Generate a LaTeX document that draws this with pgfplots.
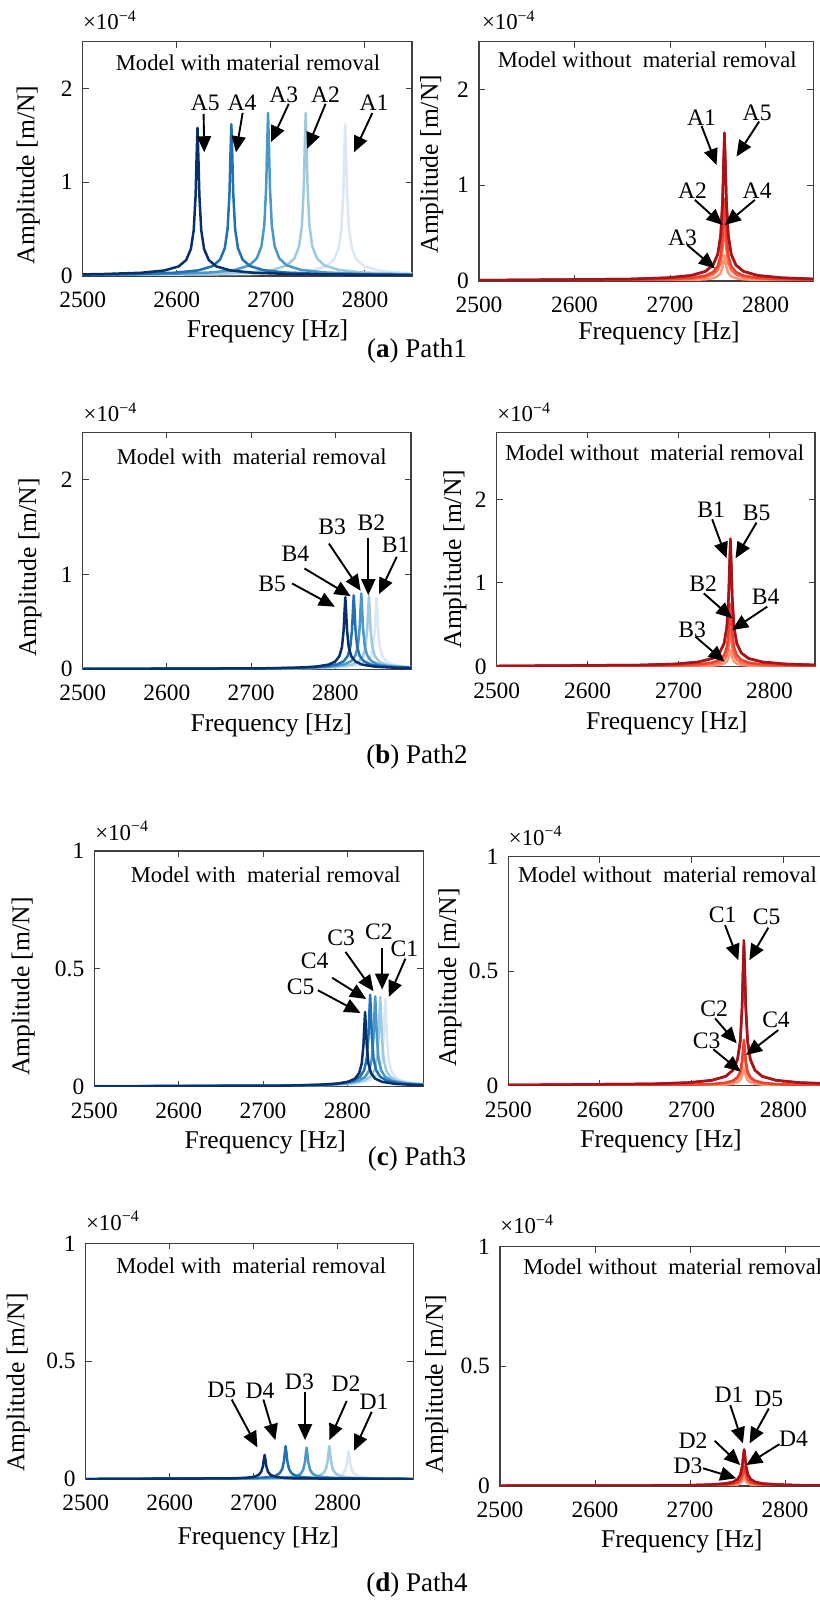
\documentclass[border=0pt]{standalone}
\usepackage{pgfplots}
\usepackage{pgfplotstable}
\pgfplotsset{compat=1.18}
\usepackage{fontspec}
\setmainfont{Liberation Serif}
\usetikzlibrary{arrows.meta}

\definecolor{b1}{RGB}{218,232,246}
\definecolor{b2}{RGB}{158,202,225}
\definecolor{b3}{RGB}{74,152,201}
\definecolor{b4}{RGB}{33,113,181}
\definecolor{b5}{RGB}{8,48,107}
\definecolor{r1}{RGB}{170,18,24}
\definecolor{r2}{RGB}{206,30,32}
\definecolor{r3}{RGB}{236,66,46}
\definecolor{r4}{RGB}{248,110,78}
\definecolor{r5}{RGB}{252,150,118}

% right panels: all peaks at 2757 Hz
\pgfplotstableread{
f a b c d e
2500 0.008 0.008 0.004 0.003 0.001
2657 0.020 0.020 0.011 0.008 0.004
2697 0.034 0.033 0.019 0.013 0.006
2722 0.058 0.056 0.032 0.023 0.010
2737 0.101 0.099 0.056 0.040 0.018
2745 0.167 0.164 0.093 0.067 0.029
2750 0.283 0.278 0.157 0.113 0.049
2753 0.479 0.470 0.266 0.192 0.083
2755 0.845 0.828 0.469 0.338 0.147
2756 1.229 1.205 0.682 0.491 0.214
2757 1.550 1.520 0.860 0.620 0.270
2758 1.229 1.205 0.682 0.491 0.214
2759 0.845 0.828 0.469 0.338 0.147
2761 0.479 0.470 0.266 0.192 0.083
2764 0.283 0.278 0.157 0.113 0.049
2769 0.167 0.164 0.093 0.067 0.029
2777 0.101 0.099 0.056 0.040 0.018
2792 0.058 0.056 0.032 0.023 0.010
2817 0.034 0.033 0.019 0.013 0.006
2850 0.022 0.021 0.012 0.009 0.004
}\tabA
\pgfplotstableread{
f a b c d e
2500 0.008 0.008 0.004 0.002 0.001
2657 0.020 0.020 0.010 0.006 0.003
2697 0.033 0.032 0.016 0.010 0.004
2722 0.057 0.056 0.028 0.017 0.007
2737 0.099 0.097 0.049 0.029 0.013
2745 0.165 0.162 0.081 0.048 0.022
2750 0.279 0.274 0.137 0.082 0.037
2753 0.473 0.464 0.232 0.139 0.062
2755 0.834 0.818 0.409 0.245 0.109
2756 1.213 1.189 0.594 0.357 0.159
2757 1.530 1.500 0.750 0.450 0.200
2758 1.213 1.189 0.594 0.357 0.159
2759 0.834 0.818 0.409 0.245 0.109
2761 0.473 0.464 0.232 0.139 0.062
2764 0.279 0.274 0.137 0.082 0.037
2769 0.165 0.162 0.081 0.048 0.022
2777 0.099 0.097 0.049 0.029 0.013
2792 0.057 0.056 0.028 0.017 0.007
2817 0.033 0.032 0.016 0.010 0.004
2850 0.021 0.021 0.010 0.006 0.003
}\tabB
\pgfplotstableread{
f a b c d e
2500 0.003 0.003 0.001 0.001 0.000
2657 0.008 0.008 0.003 0.002 0.001
2697 0.014 0.013 0.004 0.004 0.002
2722 0.024 0.023 0.007 0.006 0.003
2737 0.041 0.040 0.013 0.011 0.005
2745 0.068 0.067 0.022 0.018 0.009
2750 0.116 0.113 0.037 0.031 0.015
2753 0.196 0.192 0.062 0.053 0.025
2755 0.346 0.338 0.109 0.093 0.044
2756 0.503 0.491 0.159 0.135 0.063
2757 0.635 0.620 0.200 0.170 0.080
2758 0.503 0.491 0.159 0.135 0.063
2759 0.346 0.338 0.109 0.093 0.044
2761 0.196 0.192 0.062 0.053 0.025
2764 0.116 0.113 0.037 0.031 0.015
2769 0.068 0.067 0.022 0.018 0.009
2777 0.041 0.040 0.013 0.011 0.005
2792 0.024 0.023 0.007 0.006 0.003
2817 0.014 0.013 0.004 0.004 0.002
2850 0.009 0.009 0.003 0.002 0.001
}\tabC
\pgfplotstableread{
f a b c d e
2500 0.001 0.001 0.000 0.000 0.000
2657 0.002 0.002 0.001 0.001 0.000
2697 0.003 0.003 0.002 0.002 0.001
2722 0.006 0.006 0.003 0.003 0.001
2737 0.010 0.010 0.005 0.005 0.002
2745 0.016 0.016 0.009 0.008 0.004
2750 0.028 0.027 0.015 0.013 0.006
2753 0.047 0.046 0.025 0.022 0.011
2755 0.083 0.082 0.044 0.038 0.019
2756 0.121 0.119 0.063 0.055 0.028
2757 0.153 0.150 0.080 0.070 0.035
2758 0.121 0.119 0.063 0.055 0.028
2759 0.083 0.082 0.044 0.038 0.019
2761 0.047 0.046 0.025 0.022 0.011
2764 0.028 0.027 0.015 0.013 0.006
2769 0.016 0.016 0.009 0.008 0.004
2777 0.010 0.010 0.005 0.005 0.002
2792 0.006 0.006 0.003 0.003 0.001
2817 0.003 0.003 0.002 0.002 0.001
2850 0.002 0.002 0.001 0.001 0.000
}\tabD

\pgfplotsset{
  panel/.style={
    scale only axis, anchor=south west,
    xmin=2500, ymin=0,
    axis line style={draw=black!75, line width=0.6pt},
    every tick/.style={draw=black!75, line width=0.5pt},
    major tick length=3pt,
    tick align=inside,
    xtick={2500,2600,2700,2800},
    xticklabels={2500,2600,2700,2800},
    ticklabel style={font=\fontsize{11.7}{13}\selectfont, text=black},
    xticklabel style={yshift=-4.5pt},
    yticklabel style={xshift=-1.5pt},
    /pgf/number format/assume math mode=true,
    scaled ticks=false,
    every axis plot/.append style={line width=1.25pt, line join=round, no marks},
  },
  yA/.style={ymax=2.5, ytick={0,1,2}, yticklabels={0,1,2}},
  yC/.style={ymax=1, ytick={0,0.5,1}, yticklabels={0,0.5,1}},
}
\tikzset{
  ann/.style={draw=black, line width=0.95pt, -{Triangle[length=8pt,width=7pt]}},
  lab/.style={font=\fontsize{11.8}{13}\selectfont, inner sep=0pt},
  axl/.style={font=\fontsize{12.8}{14}\selectfont, inner sep=0pt},
  mdl/.style={font=\fontsize{11.3}{13}\selectfont, inner sep=0pt},
  captxt/.style={font=\fontsize{13.5}{15}\selectfont, inner sep=0pt},
  scitxt/.style={font=\fontsize{11.4}{12}\selectfont, inner sep=0pt, anchor=base west},
}
\newcommand{\sci}{×10\raisebox{0.8ex}{\fontsize{8}{9}\selectfont −4}}

\begin{document}
\begin{tikzpicture}

% ---------------- (a) left
\begin{axis}[panel, yA, at={(41.35pt,662pt)}, width=164.65pt, height=117.15pt, xmax=2850]
\addplot[color=b1] coordinates {(2500,0.008) (2679,0.021) (2719,0.035) (2744,0.060) (2759,0.105) (2767,0.174) (2772,0.296) (2775,0.501) (2777,0.883) (2778,1.284) (2779,1.62) (2780,1.284) (2781,0.883) (2783,0.501) (2786,0.296) (2791,0.174) (2799,0.105) (2814,0.060) (2839,0.035) (2850,0.030)};
\addplot[color=b2] coordinates {(2500,0.010) (2637,0.023) (2677,0.038) (2702,0.065) (2717,0.113) (2725,0.187) (2730,0.318) (2733,0.538) (2735,0.948) (2736,1.379) (2737,1.74) (2738,1.379) (2739,0.948) (2741,0.538) (2744,0.318) (2749,0.187) (2757,0.113) (2772,0.065) (2797,0.038) (2837,0.023) (2850,0.020)};
\addplot[color=b3] coordinates {(2500,0.011) (2597,0.023) (2637,0.038) (2662,0.065) (2677,0.113) (2685,0.187) (2690,0.318) (2693,0.538) (2695,0.948) (2696,1.379) (2697,1.74) (2698,1.379) (2699,0.948) (2701,0.538) (2704,0.318) (2709,0.187) (2717,0.113) (2732,0.065) (2757,0.038) (2797,0.023) (2850,0.015)};
\addplot[color=b4] coordinates {(2500,0.013) (2558,0.021) (2598,0.035) (2623,0.060) (2638,0.105) (2646,0.174) (2651,0.296) (2654,0.501) (2656,0.883) (2657,1.284) (2658,1.62) (2659,1.284) (2660,0.883) (2662,0.501) (2665,0.296) (2670,0.174) (2678,0.105) (2693,0.060) (2718,0.035) (2758,0.021) (2850,0.011)};
\addplot[color=b5] coordinates {(2500,0.017) (2522,0.021) (2562,0.034) (2587,0.059) (2602,0.102) (2610,0.170) (2615,0.289) (2618,0.488) (2620,0.861) (2621,1.252) (2622,1.58) (2623,1.252) (2624,0.861) (2626,0.488) (2629,0.289) (2634,0.170) (2642,0.102) (2657,0.059) (2682,0.034) (2722,0.021) (2850,0.009)};
\node[lab] at (axis cs:2630.3,1.844) {A5};
\draw[ann] (axis cs:2628.5,1.73) -- (axis cs:2629.2,1.32);
\node[lab] at (axis cs:2669.3,1.844) {A4};
\draw[ann] (axis cs:2670,1.74) -- (axis cs:2662.9,1.32);
\node[lab] at (axis cs:2713.7,1.936) {A3};
\draw[ann] (axis cs:2719,1.837) -- (axis cs:2700.2,1.43);
\node[lab] at (axis cs:2758.1,1.936) {A2};
\draw[ann] (axis cs:2758.1,1.837) -- (axis cs:2738.5,1.358);
\node[lab] at (axis cs:2809.6,1.844) {A1};
\draw[ann] (axis cs:2807.8,1.738) -- (axis cs:2788.3,1.32);
\end{axis}

% ---------------- (a) right
\begin{axis}[panel, yA, at={(239.5pt,659.5pt)}, width=167.15pt, height=119.65pt, xmax=2850]
\addplot[color=r5] table[x=f,y=e] {\tabA};
\addplot[color=r4] table[x=f,y=d] {\tabA};
\addplot[color=r3] table[x=f,y=c] {\tabA};
\addplot[color=r2] table[x=f,y=b] {\tabA};
\addplot[color=r1] table[x=f,y=a] {\tabA};
\node[lab] at (axis cs:2733,1.71) {A1};
\draw[ann] (axis cs:2733,1.62) -- (axis cs:2748.7,1.213);
\node[lab] at (axis cs:2791.2,1.76) {A5};
\draw[ann] (axis cs:2793.3,1.666) -- (axis cs:2769.6,1.30);
\node[lab] at (axis cs:2723.6,0.944) {A2};
\draw[ann] (axis cs:2726,0.847) -- (axis cs:2755,0.585);
\node[lab] at (axis cs:2791.2,0.944) {A4};
\draw[ann] (axis cs:2788.8,0.847) -- (axis cs:2757.4,0.585);
\node[lab] at (axis cs:2713.1,0.456) {A3};
\draw[ann] (axis cs:2718,0.376) -- (axis cs:2747,0.132);
\end{axis}

% ---------------- (b) left
\begin{axis}[panel, yA, at={(41.35pt,465.35pt)}, width=164.15pt, height=118.5pt, xmax=2890]
\addplot[color=b1] coordinates {(2500,0.003) (2749,0.010) (2789,0.016) (2814,0.028) (2829,0.049) (2837,0.081) (2842,0.137) (2845,0.232) (2847,0.409) (2848,0.594) (2849,0.75) (2850,0.594) (2851,0.409) (2853,0.232) (2856,0.137) (2861,0.081) (2869,0.049) (2884,0.028) (2890,0.024)};
\addplot[color=b2] coordinates {(2500,0.003) (2740,0.010) (2780,0.017) (2805,0.029) (2820,0.050) (2828,0.083) (2833,0.141) (2836,0.238) (2838,0.420) (2839,0.610) (2840,0.77) (2841,0.610) (2842,0.420) (2844,0.238) (2847,0.141) (2852,0.083) (2860,0.050) (2875,0.029) (2890,0.020)};
\addplot[color=b3] coordinates {(2500,0.003) (2731,0.010) (2771,0.017) (2796,0.030) (2811,0.052) (2819,0.086) (2824,0.146) (2827,0.247) (2829,0.436) (2830,0.634) (2831,0.80) (2832,0.634) (2833,0.436) (2835,0.247) (2838,0.146) (2843,0.086) (2851,0.052) (2866,0.030) (2890,0.018)};
\addplot[color=b4] coordinates {(2500,0.003) (2722,0.010) (2762,0.017) (2787,0.029) (2802,0.051) (2810,0.084) (2815,0.142) (2818,0.241) (2820,0.425) (2821,0.618) (2822,0.78) (2823,0.618) (2824,0.425) (2826,0.241) (2829,0.142) (2834,0.084) (2842,0.051) (2857,0.029) (2890,0.015)};
\addplot[color=b5] coordinates {(2500,0.003) (2712,0.010) (2752,0.016) (2777,0.028) (2792,0.049) (2800,0.082) (2805,0.139) (2808,0.235) (2810,0.414) (2811,0.602) (2812,0.76) (2813,0.602) (2814,0.414) (2816,0.235) (2819,0.139) (2824,0.082) (2832,0.049) (2847,0.028) (2872,0.016) (2890,0.013)};
\node[lab] at (axis cs:2725,0.905) {B5};
\draw[ann] (axis cs:2748.8,0.905) -- (axis cs:2799.6,0.66);
\node[lab] at (axis cs:2752.8,1.214) {B4};
\draw[ann] (axis cs:2763.5,1.063) -- (axis cs:2818.3,0.772);
\node[lab] at (axis cs:2796.4,1.502) {B3};
\draw[ann] (axis cs:2792.5,1.326) -- (axis cs:2830.2,0.828);
\node[lab] at (axis cs:2842.9,1.544) {B2};
\draw[ann] (axis cs:2839.3,1.386) -- (axis cs:2839.3,0.782);
\node[lab] at (axis cs:2871.8,1.309) {B1};
\draw[ann] (axis cs:2873,1.186) -- (axis cs:2852,0.793);
\end{axis}

% ---------------- (b) right
\begin{axis}[panel, ymax=2.8, ytick={0,1,2}, yticklabels={0,1,2}, at={(248.35pt,466.65pt)}, width=159.15pt, height=117.2pt, xmax=2850]
\addplot[color=r5] table[x=f,y=e] {\tabB};
\addplot[color=r4] table[x=f,y=d] {\tabB};
\addplot[color=r3] table[x=f,y=c] {\tabB};
\addplot[color=r2] table[x=f,y=b] {\tabB};
\addplot[color=r1] table[x=f,y=a] {\tabB};
\node[lab] at (axis cs:2735.8,1.873) {B1};
\draw[ann] (axis cs:2736.9,1.761) -- (axis cs:2752.7,1.295);
\node[lab] at (axis cs:2785.7,1.833) {B5};
\draw[ann] (axis cs:2785.7,1.721) -- (axis cs:2762.6,1.295);
\node[lab] at (axis cs:2727,0.988) {B2};
\draw[ann] (axis cs:2727.7,0.876) -- (axis cs:2758.9,0.578);
\node[lab] at (axis cs:2795.6,0.837) {B4};
\draw[ann] (axis cs:2797.5,0.717) -- (axis cs:2758.9,0.438);
\node[lab] at (axis cs:2714.8,0.438) {B3};
\draw[ann] (axis cs:2718.5,0.359) -- (axis cs:2750.5,0.06);
\end{axis}

% ---------------- (c) left
\begin{axis}[panel, yC, at={(47.15pt,256.65pt)}, width=164.5pt, height=117.85pt, xmax=2890]
\addplot[color=b1] coordinates {(2500,0.001) (2745,0.005) (2785,0.008) (2810,0.014) (2825,0.024) (2833,0.040) (2838,0.068) (2841,0.115) (2843,0.203) (2844,0.295) (2845,0.372) (2846,0.295) (2847,0.203) (2849,0.115) (2852,0.068) (2857,0.040) (2865,0.024) (2880,0.014) (2890,0.011)};
\addplot[color=b2] coordinates {(2500,0.001) (2739,0.005) (2779,0.008) (2804,0.014) (2819,0.025) (2827,0.041) (2832,0.069) (2835,0.117) (2837,0.207) (2838,0.301) (2839,0.38) (2840,0.301) (2841,0.207) (2843,0.117) (2846,0.069) (2851,0.041) (2859,0.025) (2874,0.014) (2890,0.010)};
\addplot[color=b3] coordinates {(2500,0.001) (2733,0.005) (2773,0.008) (2798,0.014) (2813,0.025) (2821,0.041) (2826,0.070) (2829,0.118) (2831,0.209) (2832,0.304) (2833,0.383) (2834,0.304) (2835,0.209) (2837,0.118) (2840,0.070) (2845,0.041) (2853,0.025) (2868,0.014) (2890,0.009)};
\addplot[color=b4] coordinates {(2500,0.002) (2727,0.005) (2767,0.008) (2792,0.014) (2807,0.025) (2815,0.042) (2820,0.071) (2823,0.121) (2825,0.213) (2826,0.309) (2827,0.39) (2828,0.309) (2829,0.213) (2831,0.121) (2834,0.071) (2839,0.042) (2847,0.025) (2862,0.014) (2887,0.008) (2890,0.008)};
\addplot[color=b5] coordinates {(2500,0.001) (2721,0.004) (2761,0.007) (2786,0.012) (2801,0.021) (2809,0.034) (2814,0.058) (2817,0.098) (2819,0.173) (2820,0.251) (2821,0.317) (2822,0.251) (2823,0.173) (2825,0.098) (2828,0.058) (2833,0.034) (2841,0.021) (2856,0.012) (2881,0.007) (2890,0.006)};
\node[lab] at (axis cs:2744.6,0.423) {C5};
\draw[ann] (axis cs:2765.1,0.409) -- (axis cs:2815.6,0.3125);
\node[lab] at (axis cs:2761.1,0.533) {C4};
\draw[ann] (axis cs:2782,0.462) -- (axis cs:2822.3,0.372);
\node[lab] at (axis cs:2792.7,0.632) {C3};
\draw[ann] (axis cs:2797.8,0.572) -- (axis cs:2831,0.405);
\node[lab] at (axis cs:2837.3,0.656) {C2};
\draw[ann] (axis cs:2841.2,0.589) -- (axis cs:2841.2,0.412);
\node[lab] at (axis cs:2867.7,0.585) {C1};
\draw[ann] (axis cs:2868.8,0.543) -- (axis cs:2849.1,0.381);
\end{axis}

% ---------------- (c) right
\begin{axis}[panel, yC, at={(254.15pt,257.15pt)}, width=160.45pt, height=114.5pt, xmax=2850]
\addplot[color=r5] table[x=f,y=e] {\tabC};
\addplot[color=r4] table[x=f,y=d] {\tabC};
\addplot[color=r3] table[x=f,y=c] {\tabC};
\addplot[color=r2] table[x=f,y=b] {\tabC};
\addplot[color=r1] table[x=f,y=a] {\tabC};
\node[lab] at (axis cs:2733.8,0.748) {C1};
\draw[ann] (axis cs:2736.4,0.701) -- (axis cs:2750.9,0.548);
\node[lab] at (axis cs:2781.8,0.737) {C5};
\draw[ann] (axis cs:2783.6,0.69) -- (axis cs:2762.9,0.548);
\node[lab] at (axis cs:2724.4,0.337) {C2};
\draw[ann] (axis cs:2725.5,0.294) -- (axis cs:2749.1,0.185);
\node[lab] at (axis cs:2792,0.287) {C4};
\draw[ann] (axis cs:2794.5,0.243) -- (axis cs:2759.3,0.134);
\node[lab] at (axis cs:2716.4,0.196) {C3};
\draw[ann] (axis cs:2723.6,0.159) -- (axis cs:2753.5,0.061);
\end{axis}

% ---------------- (d) left
\begin{axis}[panel, yC, at={(42.85pt,60.35pt)}, width=163.8pt, height=118pt, xmax=2890]
\addplot[color=b1] coordinates {(2500,0.000) (2778,0.004) (2793,0.008) (2801,0.013) (2806,0.022) (2809,0.037) (2811,0.066) (2812,0.096) (2813,0.121) (2814,0.096) (2815,0.066) (2817,0.037) (2820,0.022) (2825,0.013) (2833,0.008) (2848,0.004) (2890,0.002)};
\addplot[color=b2] coordinates {(2500,0.001) (2755,0.005) (2770,0.009) (2778,0.015) (2783,0.026) (2786,0.044) (2788,0.077) (2789,0.112) (2790,0.141) (2791,0.112) (2792,0.077) (2794,0.044) (2797,0.026) (2802,0.015) (2810,0.009) (2825,0.005) (2890,0.002)};
\addplot[color=b3] coordinates {(2500,0.001) (2728,0.005) (2743,0.009) (2751,0.014) (2756,0.024) (2759,0.041) (2761,0.073) (2762,0.106) (2763,0.134) (2764,0.106) (2765,0.073) (2767,0.041) (2770,0.024) (2775,0.014) (2783,0.009) (2798,0.005) (2890,0.001)};
\addplot[color=b4] coordinates {(2500,0.001) (2703,0.005) (2718,0.009) (2726,0.015) (2731,0.026) (2734,0.044) (2736,0.077) (2737,0.112) (2738,0.141) (2739,0.112) (2740,0.077) (2742,0.044) (2745,0.026) (2750,0.015) (2758,0.009) (2773,0.005) (2890,0.001)};
\addplot[color=b5] coordinates {(2500,0.001) (2678,0.004) (2693,0.007) (2701,0.011) (2706,0.019) (2709,0.032) (2711,0.056) (2712,0.082) (2713,0.103) (2714,0.082) (2715,0.056) (2717,0.032) (2720,0.019) (2725,0.011) (2733,0.007) (2748,0.004) (2890,0.001)};
\node[lab] at (axis cs:2661.9,0.377) {D5};
\draw[ann] (axis cs:2673.8,0.338) -- (axis cs:2704.4,0.135);
\node[lab] at (axis cs:2707.5,0.377) {D4};
\draw[ann] (axis cs:2711.5,0.338) -- (axis cs:2725.8,0.166);
\node[lab] at (axis cs:2754.4,0.413) {D3};
\draw[ann] (axis cs:2761.1,0.370) -- (axis cs:2761.1,0.166);
\node[lab] at (axis cs:2809.9,0.403) {D2};
\draw[ann] (axis cs:2810.7,0.332) -- (axis cs:2790.1,0.166);
\node[lab] at (axis cs:2843.3,0.328) {D1};
\draw[ann] (axis cs:2840.5,0.286) -- (axis cs:2819.4,0.121);
\end{axis}

% ---------------- (d) right
\begin{axis}[panel, yC, at={(250pt,57pt)}, width=166.25pt, height=119.65pt, xmax=2850]
\addplot[color=r5] table[x=f,y=e] {\tabD};
\addplot[color=r4] table[x=f,y=d] {\tabD};
\addplot[color=r3] table[x=f,y=c] {\tabD};
\addplot[color=r2] table[x=f,y=b] {\tabD};
\addplot[color=r1] table[x=f,y=a] {\tabD};
\node[lab] at (axis cs:2741,0.383) {D1};
\draw[ann] (axis cs:2742.4,0.3375) -- (axis cs:2755.7,0.178);
\node[lab] at (axis cs:2783,0.365) {D5};
\draw[ann] (axis cs:2783,0.324) -- (axis cs:2762.7,0.178);
\node[lab] at (axis cs:2703.2,0.189) {D2};
\draw[ann] (axis cs:2725.9,0.189) -- (axis cs:2752.9,0.0875);
\node[lab] at (axis cs:2808.9,0.199) {D4};
\draw[ann] (axis cs:2794.2,0.175) -- (axis cs:2759.2,0.0875);
\node[lab] at (axis cs:2697.9,0.083) {D3};
\draw[ann] (axis cs:2713.7,0.074) -- (axis cs:2748.7,0.032);
\end{axis}

% ---------- axis labels
\node[axl] at (133.75pt,634.15pt) {Frequency [Hz]};
\node[axl] at (329.5pt,633.5pt) {Frequency [Hz]};
\node[axl] at (135.65pt,437.5pt) {Frequency [Hz]};
\node[axl] at (333.35pt,438.35pt) {Frequency [Hz]};
\node[axl] at (132.65pt,228.65pt) {Frequency [Hz]};
\node[axl] at (330.5pt,229.15pt) {Frequency [Hz]};
\node[axl] at (129.15pt,30.85pt) {Frequency [Hz]};
\node[axl] at (340.85pt,29.15pt) {Frequency [Hz]};

\node[axl,rotate=90] at (14.15pt,712.5pt) {Amplitude [m/N]};
\node[axl,rotate=90] at (215.85pt,717.9pt) {Amplitude [m/N]};
\node[axl,rotate=90] at (15pt,516.25pt) {Amplitude [m/N]};
\node[axl,rotate=90] at (227.5pt,520.4pt) {Amplitude [m/N]};
\node[axl,rotate=90] at (11.65pt,306.65pt) {Amplitude [m/N]};
\node[axl,rotate=90] at (225pt,311.25pt) {Amplitude [m/N]};
\node[axl,rotate=90] at (9.15pt,108.75pt) {Amplitude [m/N]};
\node[axl,rotate=90] at (218.35pt,108pt) {Amplitude [m/N]};

% ---------- exponent labels
\node[scitxt] at (41.35pt,785pt) {\sci};
\node[scitxt] at (240.8pt,785pt) {\sci};
\node[scitxt] at (41.65pt,589pt) {\sci};
\node[scitxt] at (248.5pt,589pt) {\sci};
\node[scitxt] at (47.5pt,379.85pt) {\sci};
\node[scitxt] at (254.25pt,377.35pt) {\sci};
\node[scitxt] at (42.85pt,184.85pt) {\sci};
\node[scitxt] at (250pt,183.15pt) {\sci};

% ---------- model texts
\node[mdl] at (124pt,768.85pt) {Model with material removal};
\node[mdl] at (323.6pt,770pt) {Model without\ \ material removal};
\node[mdl] at (125.85pt,571.65pt) {Model with\ \ material removal};
\node[mdl] at (327.35pt,573.65pt) {Model without\ \ material removal};
\node[mdl] at (132.9pt,362.5pt) {Model with\ \ material removal};
\node[mdl,anchor=west] at (258.8pt,362.5pt) {Model without\ \ material removal};
\node[mdl] at (125.6pt,167pt) {Model with\ \ material removal};
\node[mdl,anchor=west] at (261.5pt,166.65pt) {Model without\ \ material removal};

% ---------- captions
\node[captxt] at (208.5pt,624.5pt) {(\textbf{a}) Path1};
\node[captxt] at (208.5pt,421.5pt) {(\textbf{b}) Path2};
\node[captxt] at (208.5pt,220.5pt) {(\textbf{c}) Path3};
\node[captxt] at (208.5pt,7.5pt) {(\textbf{d}) Path4};

\pgfresetboundingbox
\useasboundingbox (0pt,0pt) rectangle (409.5pt,800pt);
\end{tikzpicture}
\end{document}
